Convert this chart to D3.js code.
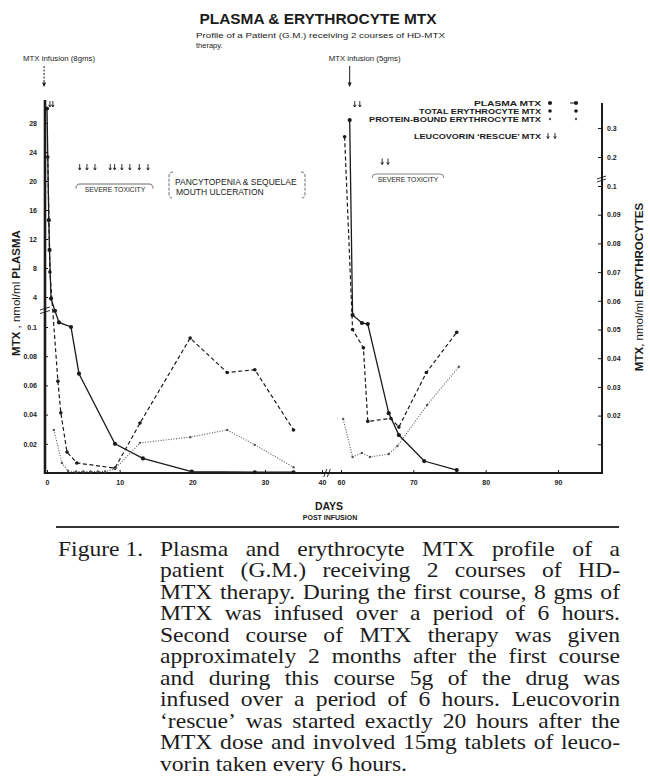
<!DOCTYPE html>
<html>
<head>
<meta charset="utf-8">
<title>Plasma &amp; erythrocyte MTX</title>
<script src="https://cdn.jsdelivr.net/npm/d3@7/dist/d3.min.js"></script>
<style>
  html, body { margin: 0; padding: 0; background: #fff; }
  svg { display: block; }
  .tick text { font-family: "Liberation Sans", Arial, sans-serif; font-weight: bold; font-size: 7px; fill: #222; }
</style>
</head>
<body>
<svg id="chart" width="650" height="783"></svg>
<script>
// values (days post infusion, nmol/ml)
const dayTicks = [0, 10, 20, 30, 40, 60, 70, 80, 90];
const plasmaTicks = [0.02, 0.04, 0.06, 0.08, 0.1, 4, 8, 12, 16, 20, 24, 28];
const eryTicks = [0.01, 0.02, 0.03, 0.04, 0.05, 0.06, 0.07, 0.08, 0.09, 0.1, 0.2, 0.3];

// first course (8 g)
const plasmaDays1 = [0, 0.25, 0.35, 0.55, 1.1, 1.65, 3.3, 4.4, 9.35, 13.2, 19.9, 28.6, 35];
const plasmaMTX1 = [30, 14.6, 10.5, 3.8, 2.2, 0.7, 0.1, 0.068, 0.02, 0.01, 0.001, 0.0005, 0.0005];
const totalDays1 = [0.1, 0.4, 1.5, 1.9, 2.75, 4.1, 9.35, 12.8, 19.7, 24.8, 28.6, 35];
const totalMTX1 = [0.2, 0.07, 0.032, 0.021, 0.0073, 0.0035, 0.0017, 0.0174, 0.047, 0.035, 0.036, 0.015];
const boundDays1 = [0.95, 2.05, 2.9, 4, 5, 6, 7, 8, 9.35, 12.8, 19.7, 24.8, 28.6, 35];
const boundMTX1 = [0.015, 0.0035, 0.0007, 0.0005, 0.0005, 0.0005, 0.0005, 0.0005, 0.0014, 0.0105, 0.0125, 0.015, 0.0098, 0.002];

// second course (5 g)
const plasmaDays2 = [61.2, 61.6, 62.9, 63.7, 66.6, 68.0, 71.5, 76.0];
const plasmaMTX2 = [28.4, 1.66, 0.62, 0.49, 0.041, 0.026, 0.0082, 0.002];
const totalDays2 = [60.5, 61.6, 63.1, 63.7, 66.9, 68.0, 71.8, 76.0];
const totalMTX2 = [0.27, 0.05, 0.0436, 0.018, 0.019, 0.016, 0.035, 0.049];
const boundDays2 = [60.3, 61.6, 62.9, 64.0, 66.6, 67.8, 71.9, 76.3];
const boundMTX2 = [0.0188, 0.0056, 0.007, 0.0056, 0.0066, 0.0094, 0.0237, 0.037];

// leucovorin rescue doses and infusions
const rescueDaysEarly = [0.4, 0.8, 61.9, 62.6];
const rescueDaysLate = [4.5, 5.5, 6.6, 8.7, 9.3, 10.3, 11.4, 12.7, 13.9, 65.7, 66.5];
const infusionDays = [-0.4, 61.2];
const infusionLabels = ['MTX infusion (8gms)', 'MTX infusion (5gms)'];

const legendLabels = ['PLASMA MTX', 'TOTAL ERYTHROCYTE MTX', 'PROTEIN-BOUND ERYTHROCYTE MTX', 'LEUCOVORIN \u2018RESCUE\u2019 MTX'];

const captionLines = [
  'Plasma and erythrocyte MTX profile of a',
  'patient (G.M.) receiving 2 courses of HD-',
  'MTX therapy. During the first course, 8 gms of',
  'MTX was infused over a period of 6 hours.',
  'Second course of MTX therapy was given',
  'approximately 2 months after the first course',
  'and during this course 5g of the drug was',
  'infused over a period of 6 hours. Leucovorin',
  '\u2018rescue\u2019 was started exactly 20 hours after the',
  'MTX dose and involved 15mg tablets of leuco-',
  'vorin taken every 6 hours.'
];

const ink = '#1b1b1b';
const sans = '"Liberation Sans", Arial, sans-serif';
const svg = d3.select('#chart');

// broken scales, as in the original drawing
const x = d3.scaleLinear().domain([0, 30, 40, 60, 90]).range([47, 265, 322, 341, 558]);
const yPlasma = d3.scaleLinear().domain([0, 0.1, 4, 28]).range([473, 327, 297, 123]);
const yEry = d3.scaleLinear().domain([0, 0.1, 0.3]).range([473, 186, 128]);

// titles
svg.append('text')
  .attr('x', 318).attr('y', 24)
  .attr('text-anchor', 'middle')
  .attr('font-family', sans).attr('font-weight', 'bold').attr('font-size', 15.5)
  .attr('textLength', 237).attr('lengthAdjust', 'spacingAndGlyphs')
  .attr('fill', ink)
  .text('PLASMA & ERYTHROCYTE  MTX');

svg.append('text')
  .attr('x', 196).attr('y', 38)
  .attr('font-family', sans).attr('font-size', 7.5)
  .attr('textLength', 249).attr('lengthAdjust', 'spacingAndGlyphs')
  .attr('fill', ink)
  .text('Profile of a Patient (G.M.) receiving 2 courses of HD-MTX');
svg.append('text')
  .attr('x', 196).attr('y', 47.5)
  .attr('font-family', sans).attr('font-size', 7.5)
  .attr('fill', ink)
  .text('therapy.');

// infusion arrows
infusionDays.forEach((d, i) => {
  const ax = x(d);
  svg.append('text')
    .attr('x', ax - 21).attr('y', 61)
    .attr('font-family', sans).attr('font-size', 7.8)
    .attr('fill', ink)
    .text(infusionLabels[i]);
  svg.append('path')
    .attr('d', `M${ax},66 V86`)
    .attr('stroke', ink).attr('stroke-width', 1)
    .attr('stroke-dasharray', i === 0 ? '2,1.5' : null);
  svg.append('path')
    .attr('d', `M${ax - 2},82.5 L${ax},87 L${ax + 2},82.5 Z`)
    .attr('fill', ink);
});

// axes
svg.append('g')
  .attr('transform', 'translate(45,0)')
  .attr('color', ink)
  .call(d3.axisLeft(yPlasma).tickValues(plasmaTicks).tickSize(-3).tickPadding(8).tickFormat(d => String(d)))
  .call(g => g.select('.domain').remove());

svg.append('g')
  .attr('transform', 'translate(602,0)')
  .attr('color', ink)
  .call(d3.axisRight(yEry).tickValues(eryTicks).tickSize(-4).tickPadding(5)
    .tickFormat(d => d === 0.01 ? '' : String(d)))
  .call(g => g.select('.domain').remove());

svg.append('g')
  .attr('transform', 'translate(0,473)')
  .attr('color', ink)
  .call(d3.axisBottom(x).tickValues(dayTicks).tickSize(-3).tickPadding(7))
  .call(g => g.select('.domain').remove());

svg.append('path').attr('d', 'M45,100 V474').attr('stroke', ink).attr('stroke-width', 2.6);
svg.append('path').attr('d', 'M44,473 H603').attr('stroke', ink).attr('stroke-width', 2);
svg.append('path').attr('d', 'M602,103 V474').attr('stroke', ink).attr('stroke-width', 2);

// axis breaks
const breaks = svg.append('g').attr('stroke', ink).attr('stroke-width', 0.9).attr('fill', 'none');
breaks.append('path').attr('d', 'M40,310 L50,307 M40,313.5 L50,310.5');
breaks.append('path').attr('d', 'M597,179 L606,176 M597,182 L606,179');
breaks.append('path').attr('d', `M${x(44) - 2},477 L${x(44) + 1},469 M${x(44) + 1.5},477 L${x(44) + 4.5},469`);

// axis titles
const yLeft = svg.append('text')
  .attr('transform', 'translate(20,293) rotate(-90)')
  .attr('text-anchor', 'middle')
  .attr('font-family', sans).attr('font-size', 11.5).attr('fill', ink);
yLeft.append('tspan').attr('font-weight', 'bold').text('MTX');
yLeft.append('tspan').text(' , nmol/ml ');
yLeft.append('tspan').attr('font-weight', 'bold').text('PLASMA');

const yRight = svg.append('text')
  .attr('transform', 'translate(643,287) rotate(-90)')
  .attr('text-anchor', 'middle')
  .attr('font-family', sans).attr('font-size', 11.5).attr('fill', ink);
yRight.append('tspan').attr('font-weight', 'bold').text('MTX');
yRight.append('tspan').text(', nmol/ml ');
yRight.append('tspan').attr('font-weight', 'bold').text('ERYTHROCYTES');

svg.append('text')
  .attr('x', 329).attr('y', 510).attr('text-anchor', 'middle')
  .attr('font-family', sans).attr('font-weight', 'bold').attr('font-size', 10.5).attr('fill', ink)
  .text('DAYS');
svg.append('text')
  .attr('x', 330).attr('y', 520).attr('text-anchor', 'middle')
  .attr('font-family', sans).attr('font-weight', 'bold').attr('font-size', 7).attr('fill', ink)
  .text('POST INFUSION');

// series
const series = [
  { days: plasmaDays1, vals: plasmaMTX1, y: yPlasma, kind: 'plasma' },
  { days: plasmaDays2, vals: plasmaMTX2, y: yPlasma, kind: 'plasma' },
  { days: totalDays1, vals: totalMTX1, y: yEry, kind: 'total' },
  { days: totalDays2, vals: totalMTX2, y: yEry, kind: 'total' },
  { days: boundDays1, vals: boundMTX1, y: yEry, kind: 'bound' },
  { days: boundDays2, vals: boundMTX2, y: yEry, kind: 'bound' }
];
const styles = {
  plasma: { dash: null, width: 1.3, r: 2.1, color: ink },
  total: { dash: '4,2.6', width: 1.2, r: 1.8, color: ink },
  bound: { dash: '1,1.6', width: 1.1, r: 1.2, color: '#555' }
};

series.forEach(s => {
  const st = styles[s.kind];
  const pts = d3.zip(s.days, s.vals);
  const line = d3.line().x(d => x(d[0])).y(d => s.y(d[1]));
  svg.append('path')
    .datum(pts)
    .attr('d', line)
    .attr('fill', 'none')
    .attr('stroke', st.color)
    .attr('stroke-width', st.width)
    .attr('stroke-dasharray', st.dash);
  svg.append('g').selectAll('circle')
    .data(pts)
    .join('circle')
    .attr('cx', d => x(d[0]))
    .attr('cy', d => s.y(d[1]))
    .attr('r', st.r)
    .attr('fill', st.color);
});

// leucovorin rescue arrows
function smallArrow(ax, top, len) {
  svg.append('path')
    .attr('d', `M${ax},${top} V${top + len} M${ax - 1.3},${top + len - 2.2} L${ax},${top + len} L${ax + 1.3},${top + len - 2.2}`)
    .attr('stroke', ink).attr('stroke-width', 0.9).attr('fill', 'none');
}
rescueDaysEarly.forEach(d => smallArrow(x(d), 101, 6));
rescueDaysLate.forEach(d => smallArrow(x(d), d < 40 ? 164 : 158.5, 6));

// toxicity notes
const noteStyle = sel => sel.attr('font-family', sans).attr('fill', ink);
svg.append('text').call(noteStyle)
  .attr('x', 115).attr('y', 192).attr('text-anchor', 'middle').attr('font-size', 6.8)
  .text('SEVERE TOXICITY');
svg.append('path')
  .attr('d', 'M76,188.5 Q76,184 80,184 H149 Q153,184 153,188.5')
  .attr('stroke', '#444').attr('stroke-width', 0.8).attr('fill', 'none');

svg.append('text').call(noteStyle)
  .attr('x', 175).attr('y', 185).attr('font-size', 8.5)
  .text('PANCYTOPENIA & SEQUELAE');
svg.append('text').call(noteStyle)
  .attr('x', 176).attr('y', 194.5).attr('font-size', 8.5)
  .text('MOUTH  ULCERATION');
svg.append('path')
  .attr('d', 'M173,172 Q169,172 169,176 V194 Q169,198 172,198 M301,172 Q305,172 305,176 V194 Q305,198 302,198')
  .attr('stroke', '#444').attr('stroke-width', 0.8).attr('fill', 'none').attr('stroke-dasharray', '3,1.5');

svg.append('text').call(noteStyle)
  .attr('x', 408).attr('y', 182).attr('text-anchor', 'middle').attr('font-size', 6.8)
  .text('SEVERE TOXICITY');
svg.append('path')
  .attr('d', 'M372,178 Q372,174 376,174 H440 Q444,174 444,178')
  .attr('stroke', '#666').attr('stroke-width', 0.8).attr('fill', 'none');

// legend
const legendY = [105.5, 113.5, 121.5, 139];
const legendWidths = [67, 122, 172, 127];
legendLabels.forEach((lab, i) => {
  svg.append('text')
    .attr('x', 541).attr('y', legendY[i]).attr('text-anchor', 'end')
    .attr('font-family', sans).attr('font-weight', 'bold').attr('font-size', 7)
    .attr('textLength', legendWidths[i]).attr('lengthAdjust', 'spacingAndGlyphs')
    .attr('fill', ink)
    .text(lab);
});
['plasma', 'total', 'bound'].forEach((k, i) => {
  const st = styles[k];
  const cy = legendY[i] - 2.5;
  svg.append('circle').attr('cx', 550).attr('cy', cy).attr('r', st.r).attr('fill', st.color);
  svg.append('circle').attr('cx', 576).attr('cy', cy).attr('r', st.r).attr('fill', st.color);
  if (k === 'plasma') {
    svg.append('path').attr('d', `M570,${cy} H575`).attr('stroke', ink).attr('stroke-width', 1);
  }
});
smallArrow(548, 133, 5.5);
smallArrow(555, 133, 5.5);

// caption
svg.append('path').attr('d', 'M56,527 H619').attr('stroke', '#333').attr('stroke-width', 2);

const sx = 1.18;
const capG = svg.append('g')
  .attr('transform', `scale(${sx},1)`)
  .attr('font-family', '"Liberation Serif", "Times New Roman", serif')
  .attr('font-size', 20)
  .attr('fill', '#1c1c1c');

capG.append('text').attr('x', 58 / sx).attr('y', 556).text('Figure 1.');

const left = 160 / sx;
const right = 620 / sx;
captionLines.forEach((line, i) => {
  const t = capG.append('text').attr('y', 556 + i * 21.5);
  const words = line.split(' ');
  const spans = words.map(w => t.append('tspan').text(w));
  const widths = spans.map(s => s.node().getComputedTextLength());
  const isLast = i === captionLines.length - 1;
  const gap = isLast ? 5 : (right - left - d3.sum(widths)) / (words.length - 1);
  let cx = left;
  spans.forEach((s, j) => {
    s.attr('x', cx);
    cx += widths[j] + gap;
  });
});
</script>
</body>
</html>
